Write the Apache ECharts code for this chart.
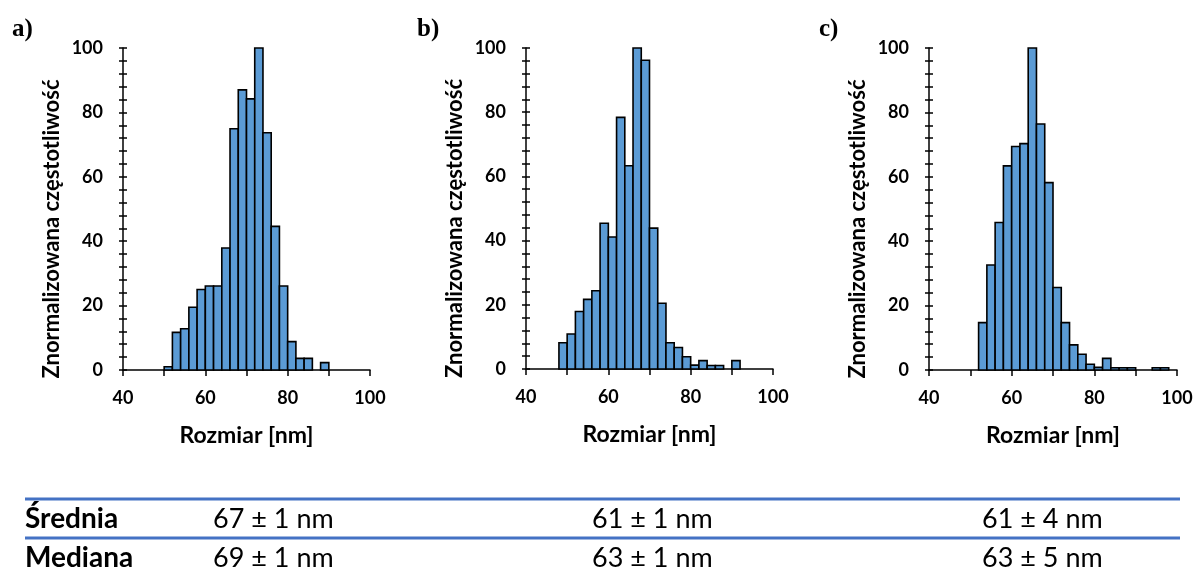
<!DOCTYPE html>
<html>
<head>
<meta charset="utf-8">
<script src="https://cdn.jsdelivr.net/npm/echarts@6/dist/echarts.min.js"></script>
<style>
  html, body { margin: 0; padding: 0; background: #fff; }
  #chart { width: 1200px; height: 571px; }
</style>
</head>
<body>
<div id="chart"></div>
<script>
// Histogram bin width (nm) and first bin edge for each sample
const binWidth = 2;
const startA = 50;
const startB = 48;
const startC = 52;

// Normalized frequency per bin (max = 100)
const valuesA = [1.0, 11.7, 12.8, 19.5, 25.0, 26.1, 26.1, 37.9, 74.9, 87.0, 84.2, 100, 73.7, 44.6, 26.1, 8.8, 3.6, 3.6, 0, 2.3];
const valuesB = [8.2, 10.9, 17.9, 21.7, 24.4, 45.4, 41.1, 78.4, 63.3, 100, 96.2, 43.9, 20.5, 8.2, 6.7, 3.8, 1.2, 2.6, 1.1, 1.1, 0, 2.6];
const valuesC = [14.7, 32.6, 45.8, 63.4, 69.4, 70.3, 100, 76.4, 58.2, 25.6, 14.7, 7.8, 4.9, 1.8, 0.8, 3.6, 0.7, 0.7, 0.7, 0, 0, 0.7, 0.7];

const panelLabels = ['a)', 'b)', 'c)'];
const xTitle = 'Rozmiar [nm]';
const yTitle = 'Znormalizowana częstotliwość';

// Summary table
const rowLabels = ['Średnia', 'Mediana'];
const meanText = ['67 ± 1 nm', '61 ± 1 nm', '61 ± 4 nm'];
const medianText = ['69 ± 1 nm', '63 ± 1 nm', '63 ± 5 nm'];

function toBins(start, values) {
  const out = [];
  values.forEach((v, i) => {
    if (v > 0) out.push([start + i * binWidth, start + (i + 1) * binWidth, v]);
  });
  return out;
}

function renderBar(params, api) {
  const lo = api.coord([api.value(0), api.value(2)]);
  const hi = api.coord([api.value(1), 0]);
  return {
    type: 'rect',
    shape: { x: lo[0], y: lo[1], width: hi[0] - lo[0], height: hi[1] - lo[1] },
    style: { fill: '#5B9BD5', stroke: '#000', lineWidth: 1.6 }
  };
}

const axisFont = 'Lato';
const grids = [
  { left: 123, top: 48, width: 247, height: 322 },
  { left: 526, top: 48, width: 247, height: 321 },
  { left: 929, top: 48, width: 248, height: 322 }
];

const xAxes = [], yAxes = [], series = [];
const datasets = [[startA, valuesA], [startB, valuesB], [startC, valuesC]];

grids.forEach((g, i) => {
  xAxes.push({
    type: 'value', gridIndex: i, min: 40, max: 100, interval: 10,
    name: xTitle, nameLocation: 'middle', nameGap: 54,
    nameTextStyle: { fontFamily: axisFont, fontWeight: 'bold', fontSize: 23, color: '#000' },
    axisLine: { show: true, onZero: false, lineStyle: { color: '#000', width: 1.5 } },
    axisTick: { show: true, inside: false, length: 6, lineStyle: { color: '#000', width: 1.5 } },
    axisLabel: {
      margin: 19, fontFamily: axisFont, fontWeight: 'bold', fontSize: 18, color: '#000',
      formatter: v => (v % 20 === 0 ? String(v) : '')
    },
    splitLine: { show: false }
  });
  yAxes.push({
    type: 'value', gridIndex: i, min: 0, max: 100, interval: 4, position: 'left',
    name: yTitle, nameLocation: 'middle', nameGap: 60, nameRotate: 90,
    nameTextStyle: { fontFamily: axisFont, fontWeight: 'bold', fontSize: 22, color: '#000', padding: [0, 40, 0, 0] },
    axisLine: { show: true, lineStyle: { color: '#000', width: 1.5 } },
    axisTick: { show: true, inside: false, length: 4, lineStyle: { color: '#000', width: 1.5 } },
    axisLabel: {
      margin: 20, fontFamily: axisFont, fontWeight: 'bold', fontSize: 18, color: '#000',
      formatter: v => (v % 20 === 0 ? String(v) : '')
    },
    splitLine: { show: false }
  });
  // companion axis drawing the inner half of the crossing ticks
  yAxes.push({
    type: 'value', gridIndex: i, min: 0, max: 100, interval: 4, position: 'left', offset: 0,
    axisLine: { show: false },
    axisTick: { show: true, inside: true, length: 4, lineStyle: { color: '#000', width: 1.5 } },
    axisLabel: { show: false },
    splitLine: { show: false }
  });
  series.push({
    type: 'custom', xAxisIndex: i, yAxisIndex: i * 2,
    renderItem: renderBar,
    encode: { x: [0, 1], y: 2 },
    data: toBins(datasets[i][0], datasets[i][1]),
    silent: true
  });
});

const graphics = [];
const labelX = [12, 417, 819];
panelLabels.forEach((t, i) => {
  graphics.push({
    type: 'text', x: labelX[i], y: 30,
    style: { text: t, font: 'bold 25px "Liberation Serif"', fill: '#000', verticalAlign: 'middle' }
  });
});

// Table rules
[499, 538].forEach(y => {
  graphics.push({
    type: 'line', shape: { x1: 25, y1: y, x2: 1180, y2: y },
    style: { stroke: '#4472C4', lineWidth: 3 }
  });
});

const rowMid = [519, 558];
const colX = [213, 592, 982];
rowLabels.forEach((t, r) => {
  graphics.push({
    type: 'text', x: 25, y: rowMid[r],
    style: { text: t, font: 'bold 28px Lato', fill: '#000', verticalAlign: 'middle' }
  });
  const vals = r === 0 ? meanText : medianText;
  vals.forEach((v, c) => {
    graphics.push({
      type: 'text', x: colX[c], y: rowMid[r],
      style: { text: v, font: '27px Lato', fill: '#000', verticalAlign: 'middle' }
    });
  });
});

const chart = echarts.init(document.getElementById('chart'), null, { renderer: 'canvas' });
chart.setOption({
  animation: false,
  backgroundColor: '#fff',
  grid: grids,
  xAxis: xAxes,
  yAxis: yAxes,
  series: series,
  graphic: graphics
});
</script>
</body>
</html>
